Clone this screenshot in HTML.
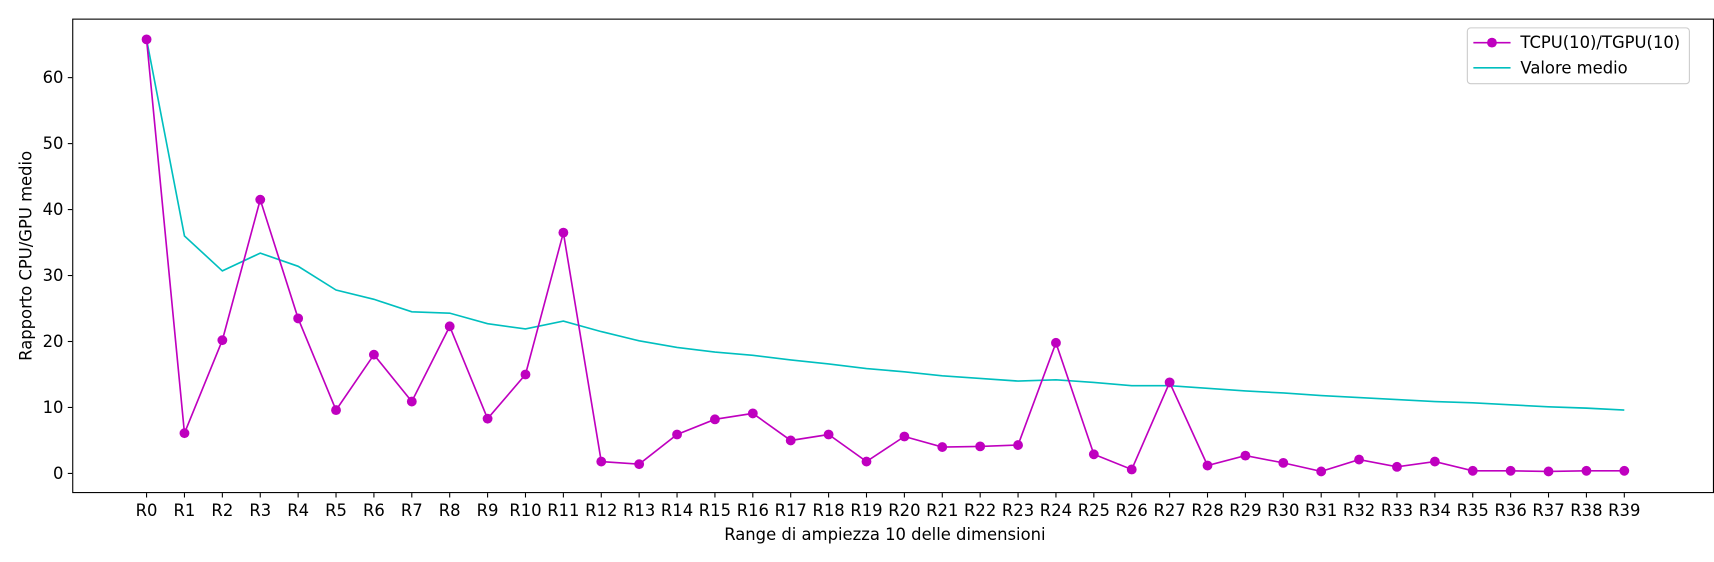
<!DOCTYPE html>
<html><head><meta charset="utf-8"><style>
body{margin:0;background:#fff;}
svg text{font-family:"DejaVu Sans","Liberation Sans",sans-serif;font-size:15px;fill:#000;}
</style></head><body>
<svg id="chart" width="1714" height="562" viewBox="0 0 1567 514" preserveAspectRatio="none" xmlns="http://www.w3.org/2000/svg" style="display:block">
<rect x="0" y="0" width="1567" height="514" fill="#fff"/>
<g id="grid"></g>
<g id="series"></g>
<rect x="66.5" y="17.5" width="1500" height="433" fill="none" stroke="#000" stroke-width="1"/>
<text x="809" y="494" text-anchor="middle">Range di ampiezza 10 delle dimensioni</text>
<text transform="translate(29,234) rotate(-90)" text-anchor="middle">Rapporto CPU/GPU medio</text>
<g>
<rect x="1341.5" y="25.5" width="203" height="51" rx="3" fill="#fff" stroke="#ccc"/>
<line x1="1347" y1="39" x2="1381" y2="39" stroke="#bf00bf" stroke-width="1.5"/>
<circle cx="1364" cy="39" r="4.5" fill="#bf00bf"/>
<text x="1390" y="44">TCPU(10)/TGPU(10)</text>
<line x1="1347" y1="62" x2="1381" y2="62" stroke="#00bfbf" stroke-width="1.5"/>
<text x="1390" y="67">Valore medio</text>
</g>
</svg>
<script>
const categories = Array.from({length:40},(_, i)=>'R'+i);
const ratioValues = [65.8,6.1,20.2,41.5,23.5,9.6,18.0,10.9,22.3,8.3,15.0,36.5,1.8,1.4,5.9,8.2,9.1,5.0,5.9,1.8,5.6,4.0,4.1,4.3,19.8,2.9,0.6,13.8,1.2,2.7,1.6,0.3,2.1,1.0,1.8,0.4,0.4,0.3,0.4,0.4];
const meanValues = [65.8,36.0,30.7,33.4,31.4,27.8,26.4,24.5,24.3,22.7,21.9,23.1,21.5,20.1,19.1,18.4,17.9,17.2,16.6,15.9,15.4,14.8,14.4,14.0,14.2,13.8,13.3,13.3,12.9,12.5,12.2,11.8,11.5,11.2,10.9,10.7,10.4,10.1,9.9,9.6];
const yTicks = [0,10,20,30,40,50,60];
const NS='http://www.w3.org/2000/svg';
const xs = i => 134 + i*(1485-134)/39;
const ys = v => 433 - v*(433-71)/60;
const grid=document.getElementById('grid'), ser=document.getElementById('series');
function mk(tag,attrs,parent){const e=document.createElementNS(NS,tag);for(const k in attrs)e.setAttribute(k,attrs[k]);parent.appendChild(e);return e;}
yTicks.forEach(t=>{
  const l=mk('line',{x1:62,x2:66,y1:ys(t),y2:ys(t),stroke:'#000'},grid);
  
  
  const tx=mk('text',{x:58,y:ys(t)+5,'text-anchor':'end'},grid);tx.textContent=t;
  
  
});
categories.forEach((c,i)=>{
  const l=mk('line',{x1:xs(i),x2:xs(i),y1:451,y2:455,stroke:'#000'},grid);
  
  
  const tx=mk('text',{x:xs(i),y:472,'text-anchor':'middle'},grid);tx.textContent=c;
  
  
});
const mp=mk('polyline',{points:meanValues.map((v,i)=>xs(i)+','+ys(v)).join(' '),fill:'none',stroke:'#00bfbf','stroke-width':1.5},ser);


const rp=mk('polyline',{points:ratioValues.map((v,i)=>xs(i)+','+ys(v)).join(' '),fill:'none',stroke:'#bf00bf','stroke-width':1.5},ser);


ratioValues.forEach((v,i)=>{
  const c=mk('circle',{cx:xs(i),cy:ys(v),r:4.5,fill:'#bf00bf'},ser);
  
  
});
</script>
</body></html>
